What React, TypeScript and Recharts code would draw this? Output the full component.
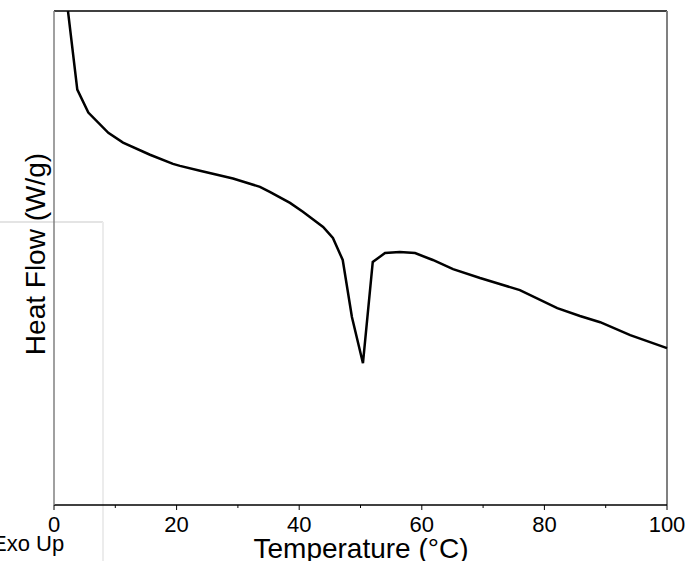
import React from 'react';
import { LineChart, Line, XAxis, YAxis, ReferenceLine, Label } from 'recharts';

const temperature = [2.28, 3.8, 5.6, 8.86, 11.26, 15.66, 19.41, 20.55, 23.82, 29.2, 33.6, 35.2, 38.5, 40.6, 43.9, 45.5, 47.1, 48.6, 50.4, 52.0, 54.0, 56.4, 58.9, 61.8, 65.1, 69.5, 76.0, 82.1, 85.8, 89.1, 94.0, 100];
const heatFlow = [2.0, 1.682, 1.589, 1.507, 1.467, 1.418, 1.381, 1.373, 1.353, 1.322, 1.288, 1.268, 1.223, 1.187, 1.126, 1.081, 0.992, 0.761, 0.574, 0.984, 1.02, 1.024, 1.02, 0.992, 0.955, 0.919, 0.87, 0.797, 0.765, 0.74, 0.688, 0.635];
const xTicks = [0, 10, 20, 30, 40, 50, 60, 70, 80, 90, 100];
const xTickLabels: Record<number, string> = { 0: '0', 20: '20', 40: '40', 60: '60', 80: '80', 100: '100' };
const yTicks = [0, 1, 2];

const data = temperature.map((t, i) => ({ t, hf: heatFlow[i] }));

const FONT = '"Liberation Sans", Arial, sans-serif';

function XTick(props: any) {
  const { x, y, payload } = props;
  const v = payload.value;
  const label = xTickLabels[v];
  const major = label !== undefined;
  return (
    <g>
      <line x1={x} x2={x} y1={y} y2={y + (major ? 5 : 3)} stroke="#000" strokeWidth={1} />
      {major && (
        <text x={x} y={y + 27} textAnchor="middle" fontSize={22} fontFamily={FONT} fill="#000">
          {label}
        </text>
      )}
    </g>
  );
}

export default function App() {
  return (
    <div style={{ position: 'absolute', left: 0, top: 0, width: 690, height: 561, background: '#fff' }}>
      <svg width={690} height={561} style={{ position: 'absolute', left: 0, top: 0 }}>
        <line x1={0} y1={222} x2={103} y2={222} stroke="#e4e4e4" strokeWidth={2} />
        <line x1={103} y1={222} x2={103} y2={561} stroke="#ececec" strokeWidth={2} />
      </svg>
      <div style={{ position: 'absolute', left: 0, top: 0 }}>
        <LineChart width={690} height={561} data={data} margin={{ top: 11, right: 23, left: 0, bottom: 0 }}>
          <XAxis
            dataKey="t"
            type="number"
            domain={[0, 100]}
            ticks={xTicks}
            interval={0}
            height={56}
            tickLine={false}
            tickSize={0}
            tickMargin={0}
            tick={<XTick />}
            axisLine={{ stroke: '#000', strokeWidth: 1.5 }}
          >
            <Label
              content={() => (
                <text x={361} y={558} textAnchor="middle" fontSize={28} fontFamily={FONT} fill="#000">
                  Temperature (°C)
                </text>
              )}
            />
          </XAxis>
          <YAxis
            type="number"
            domain={[0, 2]}
            ticks={yTicks}
            allowDataOverflow
            width={54}
            tickSize={5}
            tick={false}
            tickLine={{ stroke: '#000' }}
            axisLine={{ stroke: '#808080', strokeWidth: 1.5 }}
          >
            <Label
              content={() => (
                <text
                  x={35}
                  y={254}
                  transform="rotate(-90 35 254)"
                  textAnchor="middle"
                  dominantBaseline="central"
                  fontSize={28}
                  fontFamily={FONT}
                  fill="#000"
                >
                  Heat Flow (W/g)
                </text>
              )}
            />
          </YAxis>
          <ReferenceLine y={2} stroke="#000" strokeWidth={1.5} />
          <ReferenceLine x={100} stroke="#808080" strokeWidth={2} />
          <Line
            type="linear"
            dataKey="hf"
            stroke="#000"
            strokeWidth={2.5}
            dot={false}
            isAnimationActive={false}
          />
        </LineChart>
      </div>
      <svg width={690} height={561} style={{ position: 'absolute', left: 0, top: 0, pointerEvents: 'none' }}>
        <text x={-8} y={551} fontSize={22} fontFamily={FONT} fill="#000">
          Exo Up
        </text>
      </svg>
    </div>
  );
}
